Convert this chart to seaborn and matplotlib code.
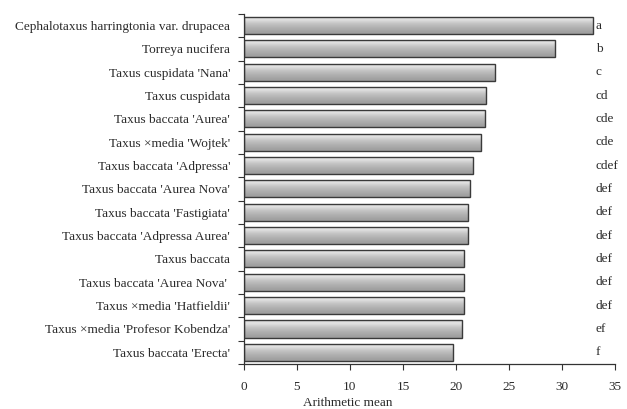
import numpy as np
import pandas as pd
import matplotlib.pyplot as plt
import seaborn as sns
from matplotlib.ticker import FixedLocator

# Data
taxa = [
    "Cephalotaxus harringtonia var. drupacea",
    "Torreya nucifera",
    "Taxus cuspidata 'Nana'",
    "Taxus cuspidata",
    "Taxus baccata 'Aurea'",
    "Taxus \u00d7media 'Wojtek'",
    "Taxus baccata 'Adpressa'",
    "Taxus baccata 'Aurea Nova'",
    "Taxus baccata 'Fastigiata'",
    "Taxus baccata 'Adpressa Aurea'",
    "Taxus baccata",
    "Taxus baccata 'Aurea Nova' ",
    "Taxus \u00d7media 'Hatfieldii'",
    "Taxus \u00d7media 'Profesor Kobendza'",
    "Taxus baccata 'Erecta'",
]
means = [32.9, 29.3, 23.7, 22.8, 22.75, 22.4, 21.6, 21.3, 21.1, 21.1, 20.8, 20.8, 20.8, 20.55, 19.75]
groups = ["a", "b", "c", "cd", "cde", "cde", "cdef", "def", "def", "def", "def", "def", "def", "ef", "f"]

df = pd.DataFrame({"Taxon": taxa, "Mean": means})

sns.set_style("white")
plt.rcParams["font.family"] = ["Liberation Serif", "DejaVu Serif"]

fig = plt.figure(figsize=(6.27, 4.09), dpi=100)
ax = fig.add_axes([0.389, 0.110, 0.592, 0.856])

sns.barplot(data=df, x="Mean", y="Taxon", orient="h", color="#b0b0b0",
            width=0.73, edgecolor="#3a3a3a", linewidth=1.0, ax=ax)

# gradient shading inside each bar
grad = np.array([0.86, 0.90, 0.82, 0.76, 0.72, 0.68, 0.65, 0.62]).reshape(-1, 1)
for patch in list(ax.patches):
    x0, y0 = patch.get_x(), patch.get_y()
    w, h = patch.get_width(), patch.get_height()
    im = ax.imshow(grad, cmap="gray", vmin=0, vmax=1, aspect="auto",
                   extent=[x0, x0 + w, y0 + h, y0], interpolation="bicubic", zorder=patch.get_zorder())
    im.set_clip_path(patch)
    patch.set_zorder(patch.get_zorder() + 0.1)
    patch.set_facecolor("none")

# significance letters
for i, g in enumerate(groups):
    ax.text(33.2, i, g, va="center", ha="left", fontsize=9.5, color="#2a2a2a")

ax.set_xlim(0, 35)
ax.set_ylim(len(taxa) - 0.5, -0.5)
ax.set_xticks(range(0, 36, 5))
ax.yaxis.set_minor_locator(FixedLocator(np.arange(-0.5, len(taxa), 1)))
ax.tick_params(axis="y", which="major", length=0, pad=10, labelsize=9.5, labelcolor="#2a2a2a")
ax.tick_params(axis="y", which="minor", length=4, width=0.8, color="#333333", left=True, direction="out")
ax.tick_params(axis="x", which="major", length=4, width=0.8, color="#333333", bottom=True,
               direction="out", pad=8, labelsize=9.5, labelcolor="#2a2a2a")

for side in ["top", "right"]:
    ax.spines[side].set_visible(False)
for side in ["left", "bottom"]:
    ax.spines[side].set_color("#333333")
    ax.spines[side].set_linewidth(0.9)

ax.set_ylabel("")
ax.set_xlabel("Arithmetic mean", fontsize=9.5, color="#2a2a2a")
ax.xaxis.set_label_coords(0.28, -0.095)

fig.savefig("out.png", dpi=100)
